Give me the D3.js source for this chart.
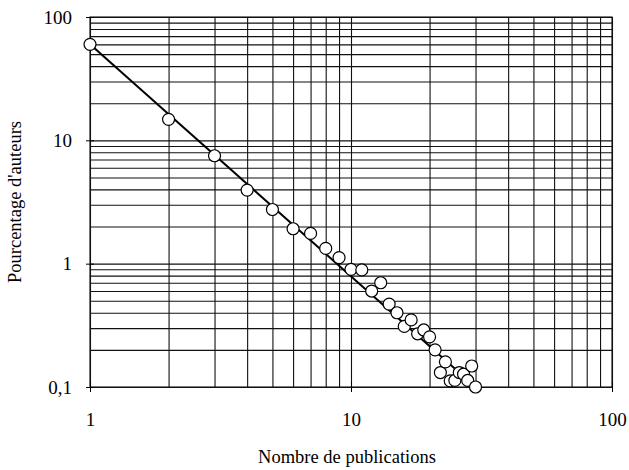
<!DOCTYPE html>
<html>
<head>
<meta charset="utf-8">
<script src="https://cdn.jsdelivr.net/npm/d3@7"></script>
<style>
  body { margin: 0; background: #fff; }
  text { font-family: "Liberation Serif", "DejaVu Serif", serif; }
</style>
</head>
<body>
<svg id="chart"></svg>
<script>
// number of publications (x) and percentage of authors (y)
let publications = [1, 2, 3, 4, 5, 6, 7, 8, 9, 10,
  11, 12, 13, 14, 15, 16, 17, 18, 19, 20,
  21, 22, 23, 24, 25, 26, 27, 28, 29, 30];
let percentages = [60, 14.8, 7.5, 3.95, 2.75, 1.92, 1.76, 1.33, 1.12, 0.9,
  0.89, 0.6, 0.7, 0.47, 0.4, 0.31, 0.35, 0.27, 0.29, 0.255,
  0.2, 0.131, 0.16, 0.112, 0.113, 0.131, 0.127, 0.113, 0.148, 0.1];

// fitted power-law line (end points)
let fitX = [1, 30];
let fitY = [60, 0.1];

// axis ticks
let xTicks = [1, 10, 100];
let yTicks = [0.1, 1, 10, 100];
let yTickLabels = ['0,1', '1', '10', '100'];

let config = { svg: {}, margin: {}, plot: {} };
config.svg.width = 629;
config.svg.height = 470;
config.margin.top = 17;
config.margin.left = 90;
config.margin.right = 17;
config.margin.bottom = 83;
config.plot.width = config.svg.width - config.margin.left - config.margin.right;
config.plot.height = config.svg.height - config.margin.top - config.margin.bottom;

let svg = d3.select('#chart')
  .attr('width', config.svg.width)
  .attr('height', config.svg.height);

let plot = svg.append('g').attr('transform', translate(config.margin.left, config.margin.top));

let xScale = d3.scaleLog().domain([1, 100]).range([0, config.plot.width]);
let yScale = d3.scaleLog().domain([0.1, 100]).range([config.plot.height, 0]);

// grid lines (every minor log step)
let xGrid = d3.axisBottom(xScale)
  .tickValues(xScale.ticks())
  .tickFormat('')
  .tickSize(-config.plot.height)
  .tickSizeOuter(0);
plot.append('g')
  .attr('class', 'grid')
  .attr('transform', translate(0, config.plot.height))
  .call(xGrid);

let yGrid = d3.axisLeft(yScale)
  .tickValues(yScale.ticks())
  .tickFormat('')
  .tickSize(-config.plot.width)
  .tickSizeOuter(0);
plot.append('g')
  .attr('class', 'grid')
  .call(yGrid);

plot.selectAll('.grid path').remove();
plot.selectAll('.grid line').attr('stroke', '#111').attr('stroke-width', 1.1);

// frame
plot.append('rect')
  .attr('x', 0).attr('y', 0)
  .attr('width', config.plot.width)
  .attr('height', config.plot.height)
  .attr('fill', 'none')
  .attr('stroke', '#111')
  .attr('stroke-width', 1.1);

// axes with small cross ticks at decades
let xAxis = d3.axisBottom(xScale)
  .tickValues(xTicks)
  .tickFormat(d3.format('d'))
  .tickSize(5)
  .tickPadding(21)
  .tickSizeOuter(0);
let xGroup = plot.append('g')
  .attr('transform', translate(0, config.plot.height))
  .call(xAxis);
xGroup.selectAll('line').attr('y1', -5);

let yAxis = d3.axisLeft(yScale)
  .tickValues(yTicks)
  .tickFormat((d, i) => yTickLabels[i])
  .tickSize(4)
  .tickPadding(14)
  .tickSizeOuter(0);
let yGroup = plot.append('g').call(yAxis);
yGroup.selectAll('line').attr('x1', 4);

plot.selectAll('.domain').remove();
xGroup.selectAll('line').attr('stroke', '#000');
yGroup.selectAll('line').attr('stroke', '#000');
plot.selectAll('.tick text')
  .attr('fill', '#000')
  .attr('font-family', '"Liberation Serif", serif')
  .style('font-size', '19px');

// fitted line
let fit = fitX.map((x, i) => ({ x: x, y: fitY[i] }));
plot.append('path')
  .datum(fit)
  .attr('fill', 'none')
  .attr('stroke', '#000')
  .attr('stroke-width', 2)
  .attr('d', d3.line().x(d => xScale(d.x)).y(d => yScale(d.y)));

// data points
let points = publications.map((x, i) => ({ x: x, y: percentages[i] }));
plot.selectAll('circle.pt')
  .data(points)
  .enter()
  .append('circle')
  .attr('class', 'pt')
  .attr('cx', d => xScale(d.x))
  .attr('cy', d => yScale(d.y))
  .attr('r', 6)
  .attr('fill', '#fff')
  .attr('stroke', '#000')
  .attr('stroke-width', 1.2);

// axis titles
svg.append('text')
  .attr('x', config.margin.left + config.plot.width / 2 - 4)
  .attr('y', 463)
  .attr('text-anchor', 'middle')
  .style('font-size', '18.5px')
  .text('Nombre de publications');

svg.append('text')
  .attr('transform', 'translate(21,' + (config.margin.top + config.plot.height / 2) + ') rotate(-90)')
  .attr('text-anchor', 'middle')
  .style('font-size', '18.5px')
  .text("Pourcentage d'auteurs");

// helper method to make translating easier
function translate(x, y) {
  return 'translate(' + x + ',' + y + ')';
}
</script>
</body>
</html>
